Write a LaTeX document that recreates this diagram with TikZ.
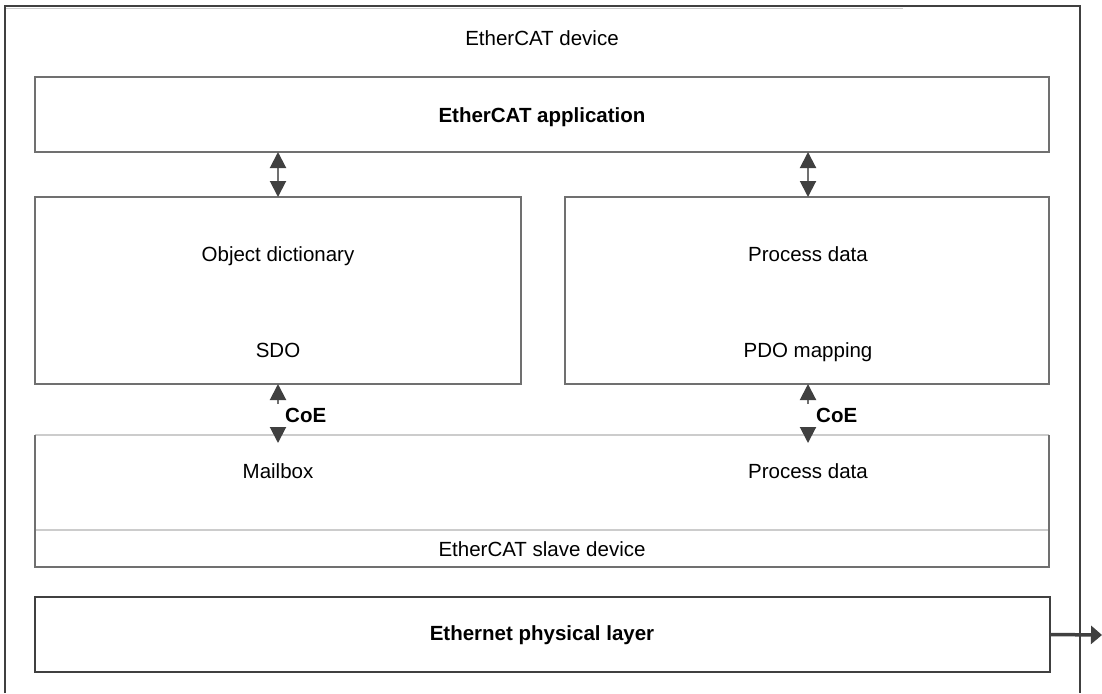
\documentclass[tikz,border=0pt]{standalone}
\usepackage{fontspec}
\setmainfont{Liberation Sans}
\usetikzlibrary{arrows.meta}
\definecolor{frame}{HTML}{404040}
\definecolor{boxline}{HTML}{707070}
\definecolor{lightline}{HTML}{CCCCCC}
\definecolor{headcol}{HTML}{404040}
\begin{document}
\begin{tikzpicture}[x=1pt,y=-1pt,
  boxnode/.style={draw=boxline,line width=1.3pt,inner sep=0pt,outer sep=0pt,anchor=north west},
  lbl/.style={font=\fontsize{20.5}{24}\selectfont,anchor=base,inner sep=0pt},
  blbl/.style={lbl,font=\fontsize{20.5}{24}\selectfont\bfseries},
  dblarrow/.style={draw=boxline,line width=2pt,{Triangle[width=16pt,length=16pt,color=headcol]}-{Triangle[width=16pt,length=16pt,color=headcol]}},
  outarrow/.style={draw=frame,line width=3.5pt,-{Triangle[width=18pt,length=11pt]}}
]
\useasboundingbox (0,0) rectangle (1102,693);
% outer frame (open at bottom)
\draw[frame,line width=1.3pt] (5,693) -- (5,6) -- (1080,6) -- (1080,693);
\draw[lightline,line width=1pt] (6,8.5) -- (903,8.5);
\node[lbl] (devlbl) at (542,46) {EtherCAT device};
% application
\node[boxnode,minimum width=1014pt,minimum height=75pt] (app) at (35,77) {};
\node[blbl] (applbl) at (542,122) {EtherCAT application};
% object dictionary / process data
\node[boxnode,minimum width=486pt,minimum height=187pt] (od) at (35,197) {};
\node[boxnode,minimum width=484pt,minimum height=187pt] (pd) at (565,197) {};
\node[lbl] (odlbl) at (278,261) {Object dictionary};
\node[lbl] (sdolbl) at (278,357) {SDO};
\node[lbl] (pdlbl) at (808,261) {Process data};
\node[lbl] (pdolbl) at (808,357) {PDO mapping};
% slave device
\draw[lightline,line width=1.3pt] (35,435) -- (1049,435);
\draw[boxline,line width=1.3pt] (35,435) -- (35,567) -- (1049,567) -- (1049,435);
\draw[lightline,line width=1.3pt] (36,530) -- (1048,530);
\node[inner sep=0pt,outer sep=0pt,minimum width=1014pt,minimum height=132pt,anchor=north west] (slave) at (35,435) {};
\node[lbl] (mblbl) at (278,478) {Mailbox};
\node[lbl] (pd2lbl) at (808,478) {Process data};
\node[lbl] (slavelbl) at (542,556) {EtherCAT slave device};
% physical layer
\node[boxnode,draw=frame,minimum width=1015pt,minimum height=75pt] (phy) at (35,597) {};
\node[blbl] (phylbl) at (542,640) {Ethernet physical layer};
\coordinate (phyout) at (1102,635);
\draw[outarrow] (phy.east) -- (phyout);
% top arrows
\draw[dblarrow] (app.south -| 278,0) -- (od.north -| 278,0);
\draw[dblarrow] (app.south -| 808,0) -- (pd.north -| 808,0);
% CoE arrows
\coordinate (coeLb) at (278,443);
\coordinate (coeRb) at (808,443);
\draw[dblarrow] (od.south -| 278,0) -- (coeLb);
\draw[dblarrow] (pd.south -| 808,0) -- (coeRb);
\fill[white] (270,404) rectangle (286,427);
\fill[white] (800,404) rectangle (816,427);
\node[blbl,anchor=base west] (coeL) at (285,422) {CoE};
\node[blbl,anchor=base west] (coeR) at (816,422) {CoE};
\end{tikzpicture}
\end{document}
